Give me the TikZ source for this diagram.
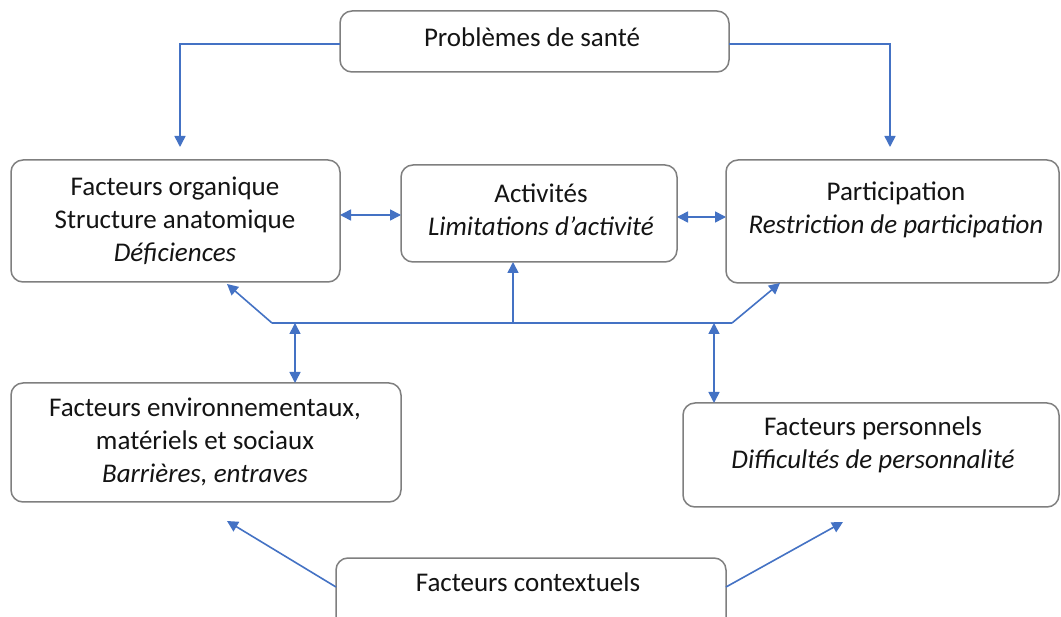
\documentclass[tikz,border=0pt]{standalone}
\usepackage{fontspec}
\setmainfont{Carlito}
\usetikzlibrary{arrows.meta}
\definecolor{arrowblue}{HTML}{4472C4}
\definecolor{boxgray}{HTML}{7F7F7F}
\definecolor{txtcol}{HTML}{141414}
\begin{document}
\begin{tikzpicture}[x=1pt,y=-1pt,
  box/.style={draw=boxgray, line width=1.5pt, rounded corners=12pt, inner sep=0pt, outer sep=0pt},
  lbl/.style={align=center, text=txtcol, font=\fontsize{27}{33}\selectfont, inner sep=0pt},
  conn/.style={draw=arrowblue, line width=1.6pt},
  tipa/.style={conn, -{Triangle[length=11pt,width=11pt]}},
  dtip/.style={conn, {Triangle[length=11pt,width=11pt]}-{Triangle[length=11pt,width=11pt]}}]
\useasboundingbox (0,0) rectangle (1061,617);
\fill[white] (0,0) rectangle (1061,617);
\clip (0,0) rectangle (1061,617);

% boxes
\node[box, minimum width=389pt, minimum height=61pt] (top) at (534.5,41.5) {};
\node[box, minimum width=329pt, minimum height=122pt] (org) at (175.5,221) {};
\node[box, minimum width=276pt, minimum height=97pt] (act) at (539,213.5) {};
\node[box, minimum width=333pt, minimum height=123pt] (par) at (892.5,221.5) {};
\node[box, minimum width=390pt, minimum height=119pt] (env) at (206,442.5) {};
\node[box, minimum width=376pt, minimum height=104pt] (per) at (871,455) {};
\node[box, minimum width=390pt, minimum height=82pt] (ctx) at (531,599) {};

% labels
\node[lbl] (topl) at (532,37) {Problèmes de santé};
\node[lbl] (orgl) at (175,221) {Facteurs organique\\Structure anatomique\\\textit{Déficiences}};
\node[lbl] (actl) at (541,210) {Activités\\\textit{Limitations d’activité}};
\node[lbl] (parl) at (896,210) {Participation\\\textit{Restriction de participation}};
\node[lbl] (envl) at (205,442) {Facteurs environnementaux,\\matériels et sociaux\\\textit{Barrières, entraves}};
\node[lbl] (perl) at (873,445) {Facteurs personnels\\\textit{Difficultés de personnalité}};
\node[lbl] (ctxl) at (528,582) {Facteurs contextuels};

% hub coordinates
\coordinate (hl) at (272,323);
\coordinate (hr) at (732,323);
\coordinate (orgtip) at (227,284);
\coordinate (partip) at (780,283);
\coordinate (envtip) at (227,521);
\coordinate (pertip) at (843,522);

% connectors
\draw[tipa] (top.west |- 0,44) -| (180,147) coordinate (orgin);
\draw[tipa] (top.east |- 0,44) -| (890,147) coordinate (parin);
\draw[dtip] (org.east |- 0,215) -- (act.west |- 0,215);
\draw[dtip] (act.east |- 0,217) -- (par.west |- 0,217);
\draw[conn] (hl) -- (hr);
\draw[tipa] (hl) -- (orgtip);
\draw[tipa] (hr) -- (partip);
\draw[tipa] (513,323) -- (act.south -| 513,0);
\draw[dtip] (295,323) -- (env.north -| 295,0);
\draw[dtip] (714,323) -- (per.north -| 714,0);
\draw[tipa] (ctx.west |- 0,587) -- (envtip);
\draw[tipa] (ctx.east |- 0,587) -- (pertip);
\end{tikzpicture}
\end{document}
